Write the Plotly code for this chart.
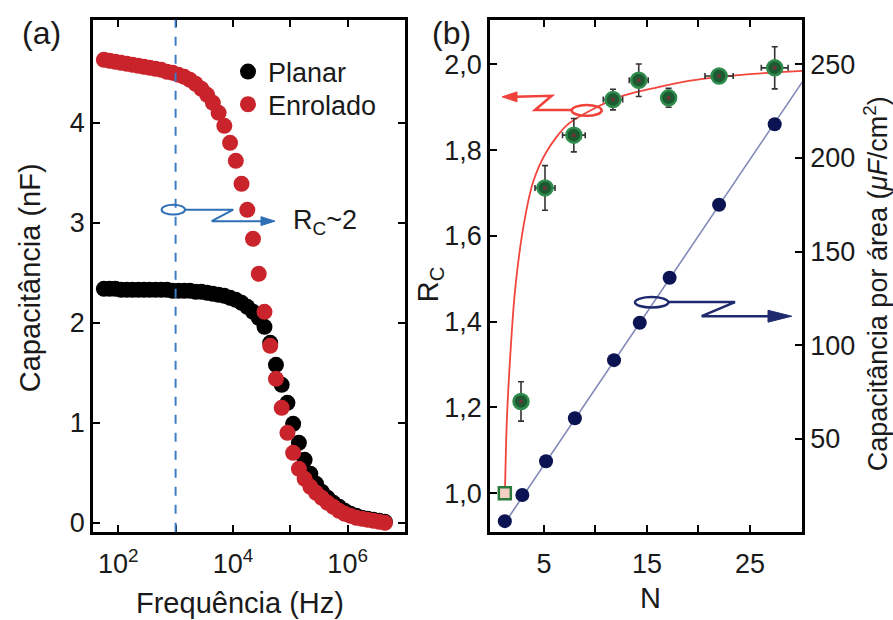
import plotly.graph_objects as go

# ---------------- (a) capacitance vs frequency ----------------
LOG_FREQ = [1.75, 1.85, 1.95, 2.05, 2.15, 2.25, 2.35, 2.45, 2.55, 2.65,
            2.75, 2.85, 2.95, 3.05, 3.15, 3.25, 3.35, 3.45, 3.55, 3.65,
            3.75, 3.85, 3.95, 4.05, 4.15, 4.25, 4.35, 4.45, 4.55, 4.65,
            4.75, 4.85, 4.95, 5.05, 5.15, 5.25, 5.35, 5.45, 5.55, 5.65,
            5.75, 5.85, 5.95, 6.05, 6.15, 6.25, 6.35, 6.45, 6.55, 6.65]
CAP_PLANAR = [2.34, 2.34, 2.34, 2.33, 2.33, 2.33, 2.33, 2.33, 2.33, 2.33,
              2.33, 2.33, 2.32, 2.32, 2.32, 2.32, 2.31, 2.31, 2.30, 2.29,
              2.28, 2.27, 2.25, 2.23, 2.20, 2.16, 2.11, 2.05, 1.96, 1.80,
              1.58, 1.38, 1.20, 0.99, 0.80, 0.63, 0.49, 0.39, 0.31, 0.25,
              0.20, 0.16, 0.12, 0.09, 0.07, 0.05, 0.04, 0.03, 0.02, 0.01]
CAP_ROLLED = [4.63, 4.62, 4.61, 4.60, 4.59, 4.58, 4.57, 4.56, 4.55, 4.54,
              4.53, 4.51, 4.50, 4.48, 4.46, 4.43, 4.39, 4.34, 4.28, 4.20,
              4.10, 3.97, 3.80, 3.62, 3.39, 3.13, 2.84, 2.49, 2.11, 1.77,
              1.44, 1.15, 0.90, 0.70, 0.54, 0.44, 0.36, 0.30, 0.25, 0.20,
              0.16, 0.12, 0.09, 0.07, 0.05, 0.04, 0.03, 0.02, 0.01, 0.00]
REF_FREQ = 1e3

# ---------------- (b) Rc and capacitance per area vs N ----------------
N_CAP = [1.2, 2.9, 5.2, 8.0, 11.8, 14.3, 17.2, 22.0, 27.4]
CAP_AREA = [6, 20, 38, 61, 92, 112, 136, 175, 218]
CAP_FIT_N = [1.2, 30.05]
CAP_FIT = [5, 240.4]

N_RC = [1.2, 2.77, 5.1, 7.9, 11.7, 14.2, 17.1, 22.0, 27.4]
RC = [1.0, 1.214, 1.712, 1.835, 1.918, 1.963, 1.922, 1.973, 1.992]
RC_ERR = [0, 0.046, 0.052, 0.039, 0.024, 0.038, 0.022, 0, 0.049]
N_ERR = [0, 0, 0.97, 1.1, 0.94, 0.92, 0, 1.37, 1.3]
RC_FIT_N = [1.21, 1.38, 1.7, 2.18, 2.99, 3.96, 5.26, 7.2, 9.47, 12.7,
            15.9, 19.2, 22.1, 25.3, 30.05]
RC_FIT = [1.0, 1.16, 1.31, 1.47, 1.62, 1.727, 1.797, 1.858, 1.892, 1.927,
          1.946, 1.962, 1.971, 1.978, 1.985]

W, H = 893, 620
FONT = "Liberation Sans, Arial, Helvetica, sans-serif"
TXT = "#1a1a1a"


def px(x):
    return x / W


def py(y):
    return 1 - y / H


fig = go.Figure()

# (a)
fig.add_trace(go.Scatter(
    x=[10 ** v for v in LOG_FREQ], y=CAP_PLANAR, mode="markers", name="Planar",
    marker=dict(color="#000000", size=16), xaxis="x", yaxis="y", legend="legend"))
fig.add_trace(go.Scatter(
    x=[10 ** v for v in LOG_FREQ], y=CAP_ROLLED, mode="markers", name="Enrolado",
    marker=dict(color="#c9232b", size=16), xaxis="x", yaxis="y", legend="legend2"))

# (b) capacitance per area (right axis)
fig.add_trace(go.Scatter(
    x=CAP_FIT_N, y=CAP_FIT, mode="lines", line=dict(color="#8289b9", width=1.6),
    showlegend=False, xaxis="x2", yaxis="y3"))
fig.add_trace(go.Scatter(
    x=N_CAP, y=CAP_AREA, mode="markers", marker=dict(color="#0b1352", size=14),
    showlegend=False, xaxis="x2", yaxis="y3"))

# (b) Rc (left axis)
fig.add_trace(go.Scatter(
    x=RC_FIT_N, y=RC_FIT, mode="lines",
    line=dict(color="#f2463d", width=1.8, shape="spline", smoothing=0.8),
    showlegend=False, xaxis="x2", yaxis="y2"))
fig.add_trace(go.Scatter(
    x=N_RC[1:], y=RC[1:], mode="markers",
    marker=dict(color="#1c5a31", size=15, line=dict(color="#2f8c4c", width=2.5)),
    error_y=dict(type="data", array=RC_ERR[1:], color="#333333", thickness=1.6, width=3),
    error_x=dict(type="data", array=N_ERR[1:], color="#333333", thickness=1.6, width=3),
    showlegend=False, xaxis="x2", yaxis="y2"))
fig.add_trace(go.Scatter(
    x=N_RC[1:], y=RC[1:], mode="markers", marker=dict(color="#6e3434", size=4),
    showlegend=False, xaxis="x2", yaxis="y2"))
fig.add_trace(go.Scatter(
    x=N_RC[:1], y=RC[:1], mode="markers",
    marker=dict(symbol="square", color="#f4cfc4", size=12,
                line=dict(color="#2a7a3e", width=2.5)),
    showlegend=False, xaxis="x2", yaxis="y2"))

Y_DOM = [1 - 537 / H, 1 - 20 / H]
TICK = dict(ticks="inside", ticklen=7, tickwidth=2, tickcolor="#000")
axis_common = dict(showline=True, linecolor="#000", linewidth=2.5, showgrid=False,
                   zeroline=False, tickfont=dict(family=FONT, size=27, color=TXT), **TICK)
legend_common = dict(xanchor="left", yanchor="top", bgcolor="rgba(0,0,0,0)",
                     font=dict(family=FONT, size=27, color=TXT), itemsizing="trace")

fig.update_layout(
    width=W, height=H, margin=dict(l=0, r=0, t=0, b=0),
    paper_bgcolor="white", plot_bgcolor="white",
    font=dict(family=FONT, color=TXT),
    xaxis=dict(domain=[px(93), px(405)], type="log", range=[1.56, 7.0],
               tickvals=[1e2, 1e4, 1e6],
               ticktext=["10<sup>2</sup>", "10<sup>4</sup>", "10<sup>6</sup>"],
               minor=dict(tickvals=[1e3, 1e5], **TICK), ticklabelstandoff=6,
               mirror="allticks", anchor="y", **axis_common),
    yaxis=dict(domain=Y_DOM, range=[-0.09, 5.03], tickvals=[0, 1, 2, 3, 4],
               mirror="allticks", anchor="x", **axis_common),
    xaxis2=dict(domain=[px(490), px(802)], range=[-0.24, 30.05],
                tickvals=[5, 15, 25], minor=dict(tickvals=[10, 20], **TICK),
                ticklabelstandoff=6, mirror="allticks", anchor="y2", **axis_common),
    yaxis2=dict(domain=Y_DOM, range=[0.91, 2.104],
                tickvals=[1.0, 1.2, 1.4, 1.6, 1.8, 2.0],
                ticktext=["1,0", "1,2", "1,4", "1,6", "1,8", "2,0"],
                mirror=True, anchor="x2", **axis_common),
    yaxis3=dict(range=[0.3, 273.8], tickvals=[50, 100, 150, 200, 250],
                overlaying="y2", side="right", anchor="x2", **axis_common),
    legend=dict(x=px(228), y=py(48), **legend_common),
    legend2=dict(x=px(228), y=py(81), **legend_common),
)

# dashed reference line at 1 kHz
fig.add_shape(type="line", xref="x", yref="y domain", x0=REF_FREQ, x1=REF_FREQ,
              y0=0, y1=1, line=dict(color="#3d7cc4", width=2, dash="dash"))


def path(points):
    return "M " + " L ".join(f"{px(x)},{py(y)}" for x, y in points)


def arrow(points, tip, base_x, half, color, width=2.5):
    fig.add_shape(type="path", xref="paper", yref="paper", path=path(points),
                  line=dict(color=color, width=width))
    tx, ty = tip
    head = path([(tx, ty), (base_x, ty - half), (base_x, ty + half)]) + " Z"
    fig.add_shape(type="path", xref="paper", yref="paper", path=head,
                  fillcolor=color, line=dict(color=color, width=1))


def ellipse(cx, cy, rx, ry, color, width=2.5):
    fig.add_shape(type="circle", xref="paper", yref="paper",
                  x0=px(cx - rx), x1=px(cx + rx), y0=py(cy + ry), y1=py(cy - ry),
                  line=dict(color=color, width=width))


# (a) arrow towards Rc~2
BLUE_A = "#2f6fb5"
ellipse(173.3, 211.7, 11.7, 5, BLUE_A, 2)
arrow([(185, 211.7), (233.3, 211.7), (211.7, 223.3), (262, 223.3)],
      (275, 223.3), 261, 4.5, BLUE_A, 2)

# (b) arrow pointing to the left axis
RED_B = "#f0423a"
ellipse(586.7, 111.5, 15, 5.5, RED_B)
arrow([(572, 111), (535, 111), (551.7, 96.7), (516, 97.8)],
      (502, 97.8), 517, 5, RED_B)

# (b) arrow pointing to the right axis
NAVY_B = "#1f2a6e"
ellipse(651.7, 305.3, 16.7, 5.3, NAVY_B)
arrow([(668.3, 305), (735, 305), (701.7, 319.3), (770, 319.3)],
      (791.7, 319.3), 768, 6, NAVY_B)


def label(text, x, y, size=29, angle=0, xanchor="center", yanchor="middle"):
    fig.add_annotation(text=text, x=px(x), y=py(y), xref="paper", yref="paper",
                       showarrow=False, textangle=angle, xanchor=xanchor,
                       yanchor=yanchor, font=dict(family=FONT, size=size, color=TXT))


label("(a)", 41, 33, 32)
label("(b)", 451, 33, 32)
label("R<sub>C</sub>~2", 291, 224, 27, xanchor="left")
label("Capacitância (nF)", 30, 281, 29, angle=-90)
label("Frequência (Hz)", 240, 609, 29)
label("R<sub>C</sub>", 430, 287, 29, angle=-90)
label("N", 650, 604, 29)
label("Capacitância por área (<i>μF</i>/cm<sup>2</sup>)", 876, 287, 27, angle=-90)

fig.write_html("out.html")
